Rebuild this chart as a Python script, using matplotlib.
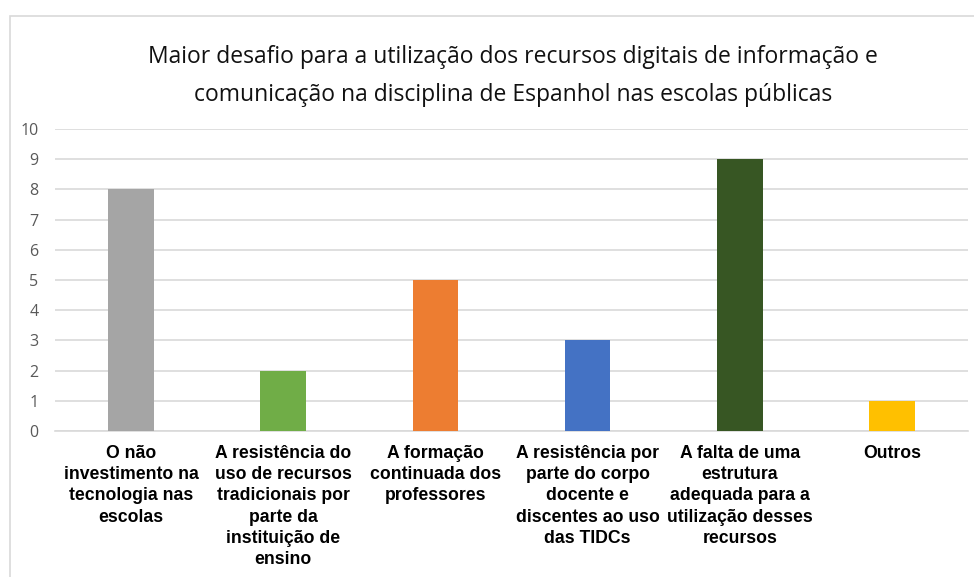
import matplotlib
matplotlib.use("Agg")
import matplotlib.pyplot as plt
from matplotlib.patches import Rectangle

categories = [
    "O não\ninvestimento na\ntecnologia nas\nescolas",
    "A resistência do\nuso de recursos\ntradicionais por\nparte da\ninstituição de\nensino",
    "A formação\ncontinuada dos\nprofessores",
    "A resistência por\nparte do corpo\ndocente e\ndiscentes ao uso\ndas TIDCs",
    "A falta de uma\nestrutura\nadequada para a\nutilização desses\nrecursos",
    "Outros",
]
values = [8, 2, 5, 3, 9, 1]
colors = ["#A5A5A5", "#70AD47", "#ED7D31", "#4472C4", "#375623", "#FFC000"]
yticks = list(range(0, 11))
title = ("Maior desafio para a utilização dos recursos digitais de informação e\n"
         "comunicação na disciplina de Espanhol nas escolas públicas")

W, H = 974, 577
fig = plt.figure(figsize=(W / 100, H / 100), dpi=100)
fig.patch.set_facecolor("white")

# chart frame (partially visible)
fig.add_artist(Rectangle((9.5 / W, -0.1), 1.2, (H - 15.5) / H + 0.1,
                         transform=fig.transFigure, fill=False,
                         edgecolor="#D9D9D9", linewidth=1.2))

left, right = 55, 968
top, bottom = 129, 431
ax = fig.add_axes([left / W, 1 - bottom / H, (right - left) / W, (bottom - top) / H])
x = list(range(len(values)))
ax.bar(x, values, width=0.30, color=colors, zorder=3)
ax.set_xlim(-0.5, len(values) - 0.5)
ax.set_ylim(0, 10)
ax.set_yticks(yticks)
ax.set_yticklabels([str(t) for t in yticks], color="#595959", fontsize=11.5,
                   family=["Open Sans", "DejaVu Sans"])
ax.yaxis.grid(True, color="#D9D9D9", linewidth=1.2, zorder=0)
ax.tick_params(axis="y", length=0, pad=12)
ax.tick_params(axis="x", length=0, pad=10)
ax.set_xticks(x)
ax.set_xticklabels(categories, fontsize=12.7, fontweight="bold",
                   family=["Liberation Sans", "DejaVu Sans"], color="#000000",
                   va="top", linespacing=1.33)
for s in ["top", "right", "left"]:
    ax.spines[s].set_visible(False)
ax.spines["bottom"].set_color("#D9D9D9")
ax.spines["bottom"].set_linewidth(1.2)

fig.text(513 / W, 1 - 76 / H, title, ha="center", va="center", fontsize=16.5,
         family=["Open Sans", "DejaVu Sans"],
         color="#111111", linespacing=1.75)

fig.savefig("out.png", dpi=100)
